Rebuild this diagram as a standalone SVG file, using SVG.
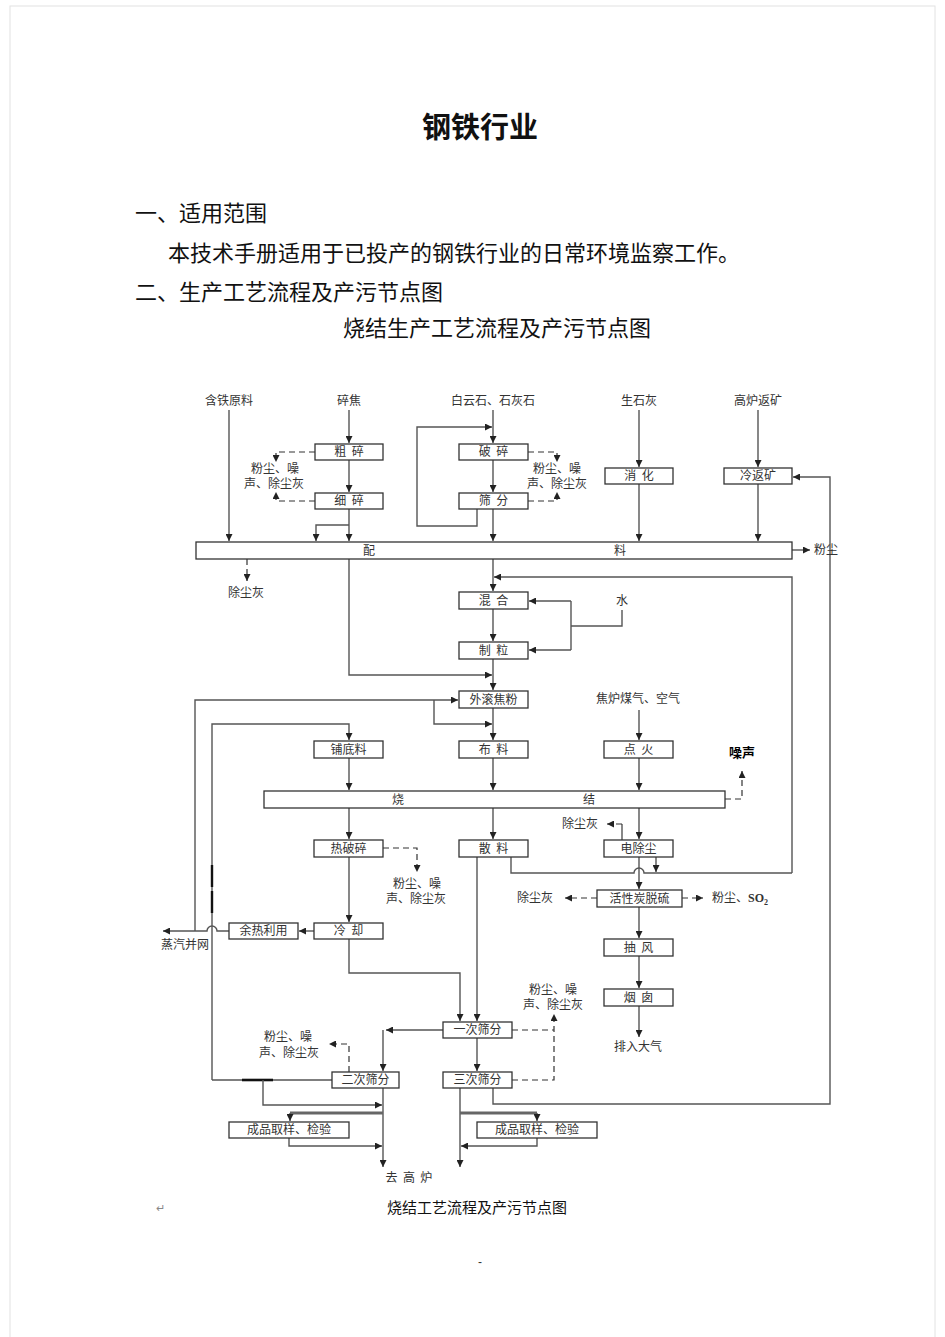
<svg xmlns="http://www.w3.org/2000/svg" width="945" height="1337" viewBox="0 0 945 1337" xml:space="preserve">
<style>
.box{fill:#fff;stroke:#333;stroke-width:1.3}
.ln{fill:none;stroke:#555;stroke-width:1.4}
.th{fill:none;stroke:#666;stroke-width:3}
.dl{fill:none;stroke:#333;stroke-width:1.2;stroke-dasharray:6 4}
.t{font-family:"Noto Sans CJK SC",sans-serif;font-size:12px;fill:#333;text-anchor:middle;white-space:pre}
.tl{font-family:"Noto Sans CJK SC",sans-serif;font-size:12px;fill:#333}
.h{font-family:"Noto Sans CJK SC",sans-serif;font-size:22px;fill:#111}
</style>
<defs>
<marker id="a" viewBox="0 0 10 10" refX="10" refY="5" markerWidth="7" markerHeight="7" markerUnits="userSpaceOnUse" orient="auto"><path d="M0,0 L10,5 L0,10 z" fill="#222"/></marker>
</defs>
<rect x="0" y="0" width="945" height="1337" fill="#fff"/>
<rect x="10" y="6" width="925" height="1340" fill="none" stroke="#e2e2e2" stroke-width="1"/>

<g id="header">
<text x="480" y="138" font-family="Noto Sans CJK SC,sans-serif" font-size="29" font-weight="bold" text-anchor="middle" fill="#111">钢铁行业</text>
<text class="h" x="135" y="221">一、适用范围</text>
<text class="h" x="168" y="261" fill="#222">本技术手册适用于已投产的钢铁行业的日常环境监察工作。</text>
<text class="h" x="135" y="300">二、生产工艺流程及产污节点图</text>
<text class="h" x="343" y="336" fill="#333">烧结生产工艺流程及产污节点图</text>
</g>

<g id="connectors">
<path class="ln" d="M229,410 V541" marker-end="url(#a)"/>
<path class="ln" d="M349,410 V443" marker-end="url(#a)"/>
<path class="ln" d="M349,460 V492" marker-end="url(#a)"/>
<path class="ln" d="M349,509 V541" marker-end="url(#a)"/>
<path class="ln" d="M349,525 H316 V541" marker-end="url(#a)"/>
<path class="ln" d="M493,410 V443" marker-end="url(#a)"/>
<path class="ln" d="M493,460 V492" marker-end="url(#a)"/>
<path class="ln" d="M493,509 V541" marker-end="url(#a)"/>
<path class="ln" d="M477,509 V526 H417 V427 H492" marker-end="url(#a)"/>
<path class="ln" d="M639,410 V467" marker-end="url(#a)"/>
<path class="ln" d="M639,484 V541" marker-end="url(#a)"/>
<path class="ln" d="M758,410 V467" marker-end="url(#a)"/>
<path class="ln" d="M758,484 V541" marker-end="url(#a)"/>
<path class="ln" d="M792,550 H810" marker-end="url(#a)"/>
<path class="ln" d="M493,1088 V1104 H830 V477 H793" marker-end="url(#a)"/>
<path class="dl" d="M315,452 H276 V462" marker-end="url(#a)"/>
<path class="dl" d="M315,501 H276 V492" marker-end="url(#a)"/>
<path class="dl" d="M528,452 H557 V462" marker-end="url(#a)"/>
<path class="dl" d="M528,501 H557 V492" marker-end="url(#a)"/>
<path class="dl" d="M247,559 V581" marker-end="url(#a)"/>
<path class="ln" d="M493,559 V591" marker-end="url(#a)"/>
<path class="ln" d="M792,873 V577 H494" marker-end="url(#a)"/>
<path class="ln" d="M349,559 V675 H492" marker-end="url(#a)"/>
<path class="ln" d="M493,609 V641" marker-end="url(#a)"/>
<path class="ln" d="M622,610 V626 H571"/>
<path class="ln" d="M571,601 V650"/>
<path class="ln" d="M571,601 H529" marker-end="url(#a)"/>
<path class="ln" d="M571,650 H529" marker-end="url(#a)"/>
<path class="ln" d="M493,659 V690" marker-end="url(#a)"/>
<path class="ln" d="M195,931 V700 H458" marker-end="url(#a)"/>
<path class="ln" d="M434,700 V724 H492" marker-end="url(#a)"/>
<path class="ln" d="M493,708 V740" marker-end="url(#a)"/>
<path class="ln" d="M212,1080 V724 H349 V740" marker-end="url(#a)"/>
<path d="M212,865 V887 M212,891 V913" stroke="#111" stroke-width="2.4" fill="none"/>
<path class="ln" d="M639,710 V740" marker-end="url(#a)"/>
<path class="ln" d="M349,758 V790" marker-end="url(#a)"/>
<path class="ln" d="M493,758 V790" marker-end="url(#a)"/>
<path class="ln" d="M639,758 V790" marker-end="url(#a)"/>
<path class="dl" d="M725,799 H742 V771" marker-end="url(#a)"/>
<path class="ln" d="M349,808 V839" marker-end="url(#a)"/>
<path class="ln" d="M493,808 V839" marker-end="url(#a)"/>
<path class="ln" d="M639,808 V839" marker-end="url(#a)"/>
<path class="ln" d="M622,840 V824"/>
<path class="dl" d="M622,824 H607" marker-end="url(#a)"/>
<path class="dl" d="M383,848 H417 V872" marker-end="url(#a)"/>
<path class="ln" d="M511,857 V873 H634 A5,5 0 0 1 644,873 H792"/>
<path class="ln" d="M656,857 V872" marker-end="url(#a)"/>
<path class="ln" d="M639,857 V889" marker-end="url(#a)"/>
<path class="dl" d="M597,898 H565" marker-end="url(#a)"/>
<path class="dl" d="M682,898 H703" marker-end="url(#a)"/>
<path class="ln" d="M639,907 V938" marker-end="url(#a)"/>
<path class="ln" d="M639,956 V988" marker-end="url(#a)"/>
<path class="ln" d="M639,1006 V1037" marker-end="url(#a)"/>
<path class="ln" d="M349,857 V922" marker-end="url(#a)"/>
<path class="ln" d="M314,931 H299" marker-end="url(#a)"/>
<path class="ln" d="M229,931 H217 A5,5 0 0 0 207,931 H163" marker-end="url(#a)"/>
<path class="ln" d="M349,939 V973 H460 V1021" marker-end="url(#a)"/>
<path class="ln" d="M477,857 V1021" marker-end="url(#a)"/>
<path class="ln" d="M443,1030 H386" marker-end="url(#a)"/>
<path class="ln" d="M383,1030 V1071" marker-end="url(#a)"/>
<path class="dl" d="M349,1072 V1044 H329" marker-end="url(#a)"/>
<path class="ln" d="M477,1038 V1071" marker-end="url(#a)"/>
<path class="dl" d="M512,1030 H554"/>
<path class="dl" d="M512,1080 H554 V1014" marker-end="url(#a)"/>
<path class="ln" d="M332,1080 H212"/>
<path d="M242,1080 H273" stroke="#111" stroke-width="2.6"/>
<path class="ln" d="M263,1080 V1105 H382" marker-end="url(#a)"/>
<path class="ln" d="M383,1088 V1167" marker-end="url(#a)"/>
<path class="th" d="M383,1113 H290"/>
<path class="ln" d="M290,1113 V1121" marker-end="url(#a)"/>
<path class="ln" d="M289,1138 V1146 H382" marker-end="url(#a)"/>
<path class="ln" d="M460,1088 V1167" marker-end="url(#a)"/>
<path class="th" d="M460,1113 H537"/>
<path class="ln" d="M537,1113 V1121" marker-end="url(#a)"/>
<path class="ln" d="M537,1138 V1146 H461" marker-end="url(#a)"/>
</g>

<g id="n_cusui"><rect class="box" x="315" y="444" width="68" height="16"/><text class="t" x="349" y="456">粗  碎</text></g>
<g id="n_xisui"><rect class="box" x="315" y="493" width="68" height="16"/><text class="t" x="349" y="505">细  碎</text></g>
<g id="n_posui"><rect class="box" x="459" y="444" width="69" height="16"/><text class="t" x="493.5" y="456">破  碎</text></g>
<g id="n_shaifen"><rect class="box" x="459" y="493" width="69" height="16"/><text class="t" x="493.5" y="505">筛  分</text></g>
<g id="n_xiaohua"><rect class="box" x="605" y="468" width="68" height="16"/><text class="t" x="639" y="480">消  化</text></g>
<g id="n_lengfan"><rect class="box" x="724" y="468" width="68" height="16"/><text class="t" x="758" y="480">冷返矿</text></g>
<g id="n_peiliao"><rect class="box" x="196" y="542" width="596" height="17"/><text class="t" x="369" y="555">配</text><text class="t" x="620" y="555">料</text></g>
<g id="n_hunhe"><rect class="box" x="459" y="592" width="69" height="17"/><text class="t" x="493.5" y="605">混  合</text></g>
<g id="n_zhili"><rect class="box" x="459" y="642" width="69" height="17"/><text class="t" x="493.5" y="655">制  粒</text></g>
<g id="n_waigun"><rect class="box" x="459" y="691" width="69" height="17"/><text class="t" x="493.5" y="704">外滚焦粉</text></g>
<g id="n_pudi"><rect class="box" x="314" y="741" width="69" height="17"/><text class="t" x="348.5" y="754">铺底料</text></g>
<g id="n_buliao"><rect class="box" x="459" y="741" width="69" height="17"/><text class="t" x="493.5" y="754">布  料</text></g>
<g id="n_dianhuo"><rect class="box" x="604" y="741" width="69" height="17"/><text class="t" x="638.5" y="754">点  火</text></g>
<g id="n_shaojie"><rect class="box" x="264" y="791" width="461" height="17"/><text class="t" x="398" y="804">烧</text><text class="t" x="589" y="804">结</text></g>
<g id="n_repo"><rect class="box" x="314" y="840" width="69" height="17"/><text class="t" x="348.5" y="853">热破碎</text></g>
<g id="n_sanliao"><rect class="box" x="459" y="840" width="69" height="17"/><text class="t" x="493.5" y="853">散  料</text></g>
<g id="n_dianchu"><rect class="box" x="604" y="840" width="69" height="17"/><text class="t" x="638.5" y="853">电除尘</text></g>
<g id="n_huoxing"><rect class="box" x="597" y="890" width="85" height="17"/><text class="t" x="639.5" y="903">活性炭脱硫</text></g>
<g id="n_choufeng"><rect class="box" x="604" y="939" width="69" height="17"/><text class="t" x="638.5" y="952">抽  风</text></g>
<g id="n_yancong"><rect class="box" x="604" y="989" width="69" height="17"/><text class="t" x="638.5" y="1002">烟  囱</text></g>
<g id="n_lengque"><rect class="box" x="314" y="923" width="69" height="16"/><text class="t" x="348.5" y="935">冷  却</text></g>
<g id="n_yure"><rect class="box" x="229" y="923" width="69" height="16"/><text class="t" x="263.5" y="935">余热利用</text></g>
<g id="n_yici"><rect class="box" x="443" y="1022" width="69" height="16"/><text class="t" x="477.5" y="1034">一次筛分</text></g>
<g id="n_erci"><rect class="box" x="332" y="1072" width="67" height="16"/><text class="t" x="365.5" y="1084">二次筛分</text></g>
<g id="n_sanci"><rect class="box" x="443" y="1072" width="69" height="16"/><text class="t" x="477.5" y="1084">三次筛分</text></g>
<g id="n_chengpin1"><rect class="box" x="229" y="1122" width="120" height="16"/><text class="t" x="289" y="1134">成品取样、检验</text></g>
<g id="n_chengpin2"><rect class="box" x="477" y="1122" width="120" height="16"/><text class="t" x="537" y="1134">成品取样、检验</text></g>

<g id="labels">
<text class="t" x="229" y="405">含铁原料</text>
<text class="t" x="349" y="405">碎焦</text>
<text class="t" x="493" y="405">白云石、石灰石</text>
<text class="t" x="639" y="405">生石灰</text>
<text class="t" x="758" y="405">高炉返矿</text>
<text class="tl" x="814" y="554">粉尘</text>
<text class="t" x="275" y="473">粉尘、噪</text>
<text class="t" x="274" y="488">声、除尘灰</text>
<text class="t" x="557" y="473">粉尘、噪</text>
<text class="t" x="557" y="488">声、除尘灰</text>
<text class="t" x="246" y="597">除尘灰</text>
<text class="t" x="622" y="605">水</text>
<text class="t" x="638" y="703">焦炉煤气、空气</text>
<text x="742" y="757" font-family="Noto Sans CJK SC,sans-serif" font-size="13" font-weight="bold" text-anchor="middle" fill="#000">噪声</text>
<text class="t" x="580" y="828">除尘灰</text>
<text class="t" x="417" y="888">粉尘、噪</text>
<text class="t" x="416" y="903">声、除尘灰</text>
<text class="t" x="535" y="902">除尘灰</text>
<text class="tl" x="712" y="902">粉尘、<tspan font-weight="bold" font-family="Liberation Serif,serif">SO</tspan><tspan font-weight="bold" font-family="Liberation Serif,serif" font-size="8" dy="3">2</tspan></text>
<text class="t" x="185" y="949">蒸汽并网</text>
<text class="t" x="288" y="1041">粉尘、噪</text>
<text class="t" x="289" y="1057">声、除尘灰</text>
<text class="t" x="553" y="994">粉尘、噪</text>
<text class="t" x="553" y="1009">声、除尘灰</text>
<text class="t" x="638" y="1051">排入大气</text>
<text class="t" x="409" y="1182">去  高  炉</text>
<text x="477" y="1213" font-family="Noto Sans CJK SC,sans-serif" font-size="15" text-anchor="middle" fill="#111">烧结工艺流程及产污节点图</text>
<text x="160" y="1212" font-family="Noto Sans CJK SC,sans-serif" font-size="11" text-anchor="middle" fill="#888">↵</text>
<text x="480" y="1266" font-family="Liberation Sans,sans-serif" font-size="12" text-anchor="middle" fill="#333">-</text>
</g>
</svg>
